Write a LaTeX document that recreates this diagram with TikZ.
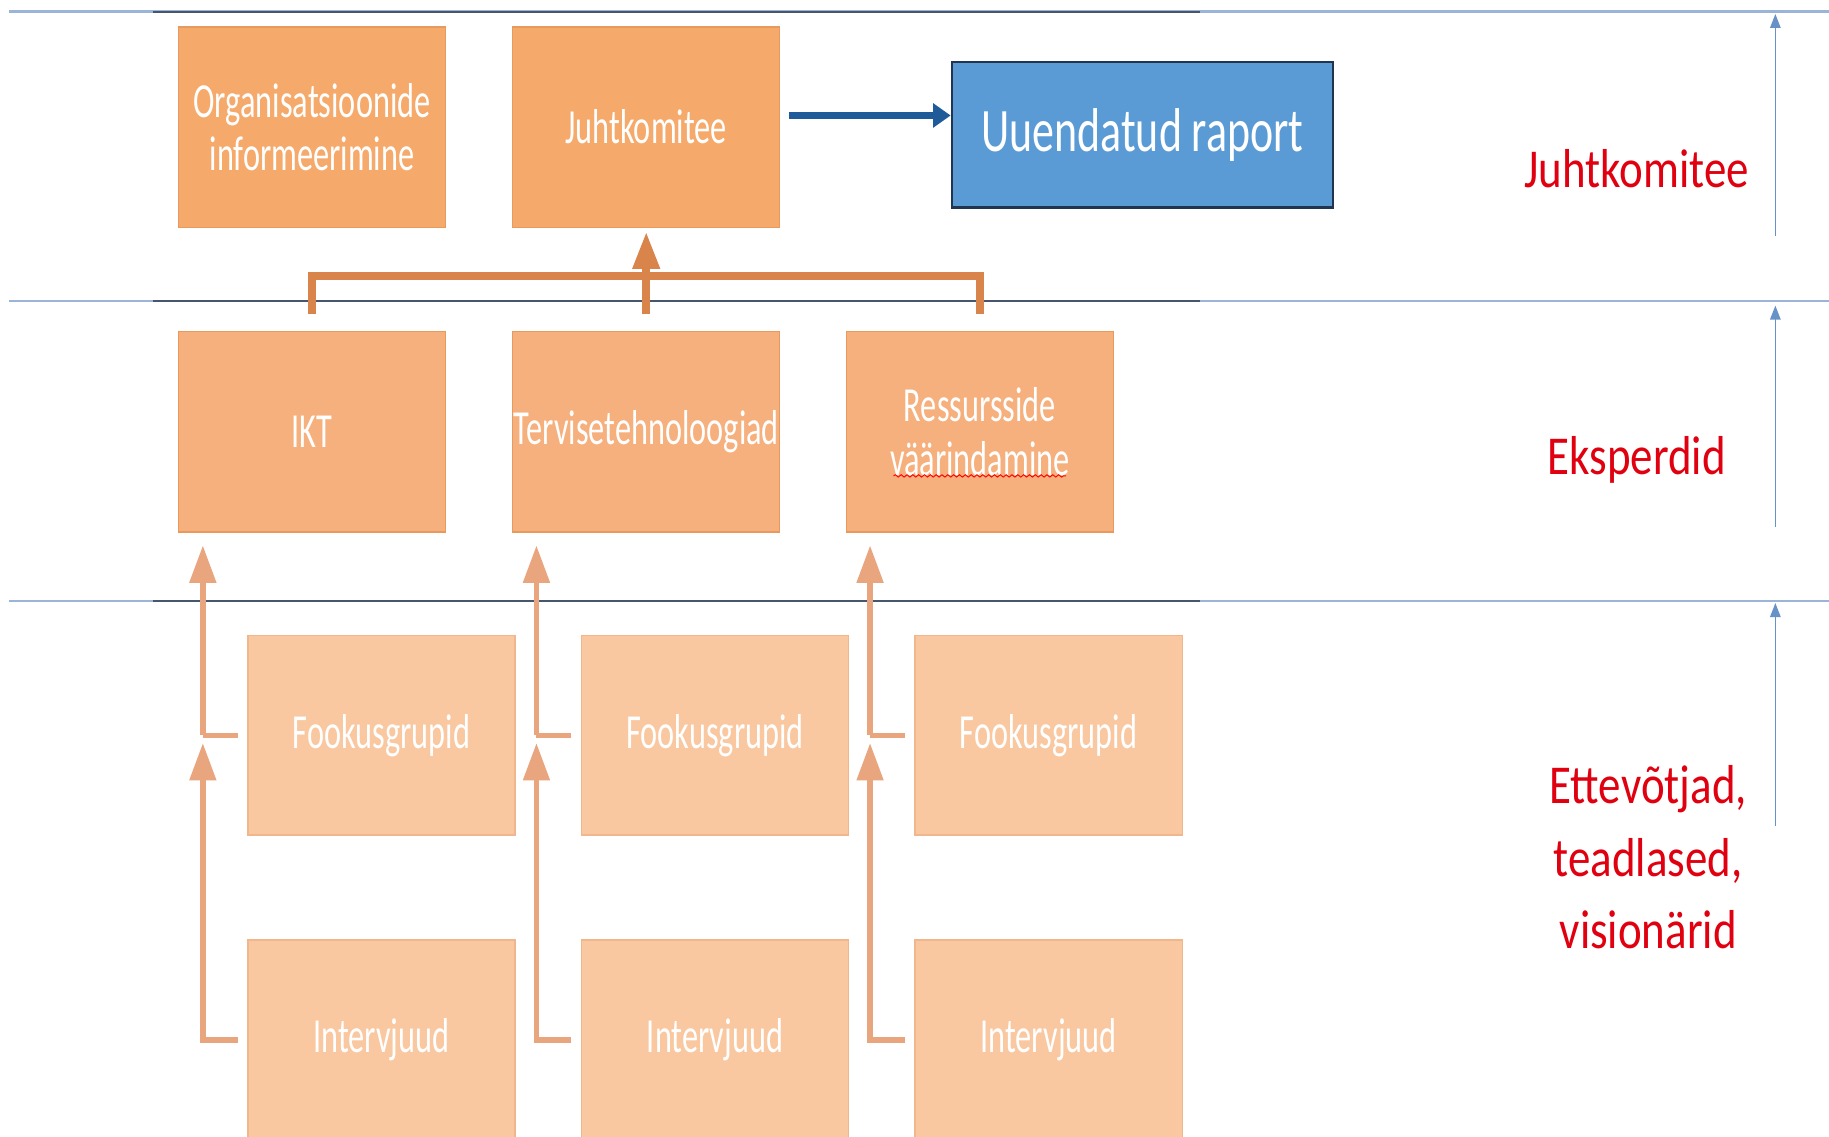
\documentclass[tikz,border=0pt]{standalone}
\usepackage{fontspec}
\setmainfont{Carlito}
\newfontfamily\boxfont[FakeStretch=0.66]{Carlito}
\newfontfamily\repfont[FakeStretch=0.71]{Carlito}
\newfontfamily\redfont[FakeStretch=0.82]{Carlito}
\usetikzlibrary{arrows.meta,calc,decorations.pathmorphing}
\definecolor{orTop}{HTML}{F5AA6C}
\definecolor{orMid}{HTML}{F6B07D}
\definecolor{orLow}{HTML}{F9C8A0}
\definecolor{orEdge}{HTML}{E8995E}
\definecolor{orLowEdge}{HTML}{F0B68C}
\definecolor{brk}{HTML}{D8844A}
\definecolor{lowArr}{HTML}{E8A57E}
\definecolor{repFill}{HTML}{5B9BD5}
\definecolor{repEdge}{HTML}{1F3550}
\definecolor{repArr}{HTML}{1F5B98}
\definecolor{redTxt}{HTML}{E00010}
\definecolor{hLight}{HTML}{9BB5D9}
\definecolor{hDark}{HTML}{46566C}
\definecolor{vArr}{HTML}{6792C8}
\begin{document}
\begin{tikzpicture}[x=0.5pt,y=-0.5pt,
  basebox/.style={line width=0.6pt, minimum width=114.5pt, minimum height=86pt,
    inner sep=0pt, text=white, align=center,
    font=\boxfont\fontsize{21pt}{23pt}\selectfont},
  topbox/.style={basebox, draw=orEdge, fill=orTop},
  midbox/.style={basebox, draw=orEdge, fill=orMid},
  lowbox/.style={basebox, draw=orLowEdge, fill=orLow, minimum height=85.5pt},
  repbox/.style={draw=repEdge, line width=1pt, fill=repFill, minimum width=163.5pt,
    minimum height=62.5pt, inner sep=0pt, text=white,
    font=\repfont\fontsize{26.5pt}{29pt}\selectfont},
  redlbl/.style={text=redTxt, align=center, inner sep=0pt,
    font=\redfont\fontsize{23.5pt}{31pt}\selectfont},
  bracketline/.style={draw=brk, line width=3.5pt},
  lowline/.style={draw=lowArr, line width=2.5pt},
  uparrow/.style={-{Triangle[width=11pt,length=16pt]}},
  sidearrow/.style={draw=vArr, line width=0.6pt, -{Triangle[width=4.5pt,length=6pt]}},
  hline/.style={draw=hLight, line width=1pt},
  hdark/.style={draw=hDark, line width=0.9pt}
]
\useasboundingbox (0,0) rectangle (1568,974);
\fill[white] (0,0) rectangle (1568,974);

% horizontal level lines
\foreach \yy in {10,258,515} {
  \draw[hline] (8,\yy) -- (1568,\yy);
  \draw[hdark] (131,\yy) -- (1029,\yy);
}

% side arrows
\coordinate (s1b) at (1522,202); \coordinate (s1t) at (1522,12);
\coordinate (s2b) at (1522,452); \coordinate (s2t) at (1522,262);
\coordinate (s3b) at (1522,708); \coordinate (s3t) at (1522,517);
\draw[sidearrow] (s1b) -- (s1t);
\draw[sidearrow] (s2b) -- (s2t);
\draw[sidearrow] (s3b) -- (s3t);

% red labels
\node[redlbl] (lj) at (1403,145) {Juhtkomitee};
\node[redlbl] (le) at (1403,394) {Eksperdid};
\node[redlbl] (lv) at (1413,735) {Ettevõtjad,\\teadlased,\\visionärid};

% top row
\node[topbox] (org) at (267.5,109) {Organisatsioonide\\informeerimine};
\node[topbox] (juht) at (554,109) {Juhtkomitee};
\node[repbox] (rep) at (979.5,115.5) {Uuendatud raport};

% middle row
\node[midbox] (ikt) at (267.5,370) {IKT};
\node[midbox] (terv) at (554,370) {Tervisetehnoloogiad};
\node[midbox] (ress) at (840,370) {Ressursside\\väärindamine};
\draw[red, line width=0.4pt, decorate, decoration={snake, amplitude=0.5pt, segment length=2.5pt}]
  ([xshift=-37pt,yshift=-19pt]ress.center) -- ([xshift=37pt,yshift=-19pt]ress.center);

% bottom rows
\node[lowbox] (fk1) at (327,630.5) {Fookusgrupid};
\node[lowbox] (fk2) at (613,630.5) {Fookusgrupid};
\node[lowbox] (fk3) at (899,630.5) {Fookusgrupid};
\node[lowbox] (iv1) at (327,891.5) {Intervjuud};
\node[lowbox] (iv2) at (613,891.5) {Intervjuud};
\node[lowbox] (iv3) at (899,891.5) {Intervjuud};

% blue arrow
\coordinate (ba) at ([xshift=3.5pt,yshift=5pt]juht.east);
\draw[draw=repArr, fill=repArr, line width=3pt, -{Triangle[width=10pt,length=7.5pt]}] (ba) -- (ba -| rep.west);

% bracket to Juhtkomitee
\draw[bracketline] ([yshift=7pt]ikt.north) -- ++(0,-33) -| ([yshift=7pt]ress.north);
\draw[bracketline, uparrow] ([yshift=7pt]terv.north) -- ([yshift=-1.5pt]juht.south);

% bottom connectors
\foreach \f/\i/\m in {fk1/iv1/ikt, fk2/iv2/terv, fk3/iv3/ress} {
  \draw[lowline, uparrow] ([xshift=-4pt]\i.west) -- ++(-30,0) coordinate (c\i)
     -- ($(c\i |- \f.west)+(0,6.5)$);
  \draw[lowline] ([xshift=-4pt]\f.west) -- ++(-30,0) coordinate (c\f);
  \draw[lowline, uparrow] (c\f) -- ($(c\f |- \m.south)+(0,11)$);
}
\end{tikzpicture}
\end{document}
